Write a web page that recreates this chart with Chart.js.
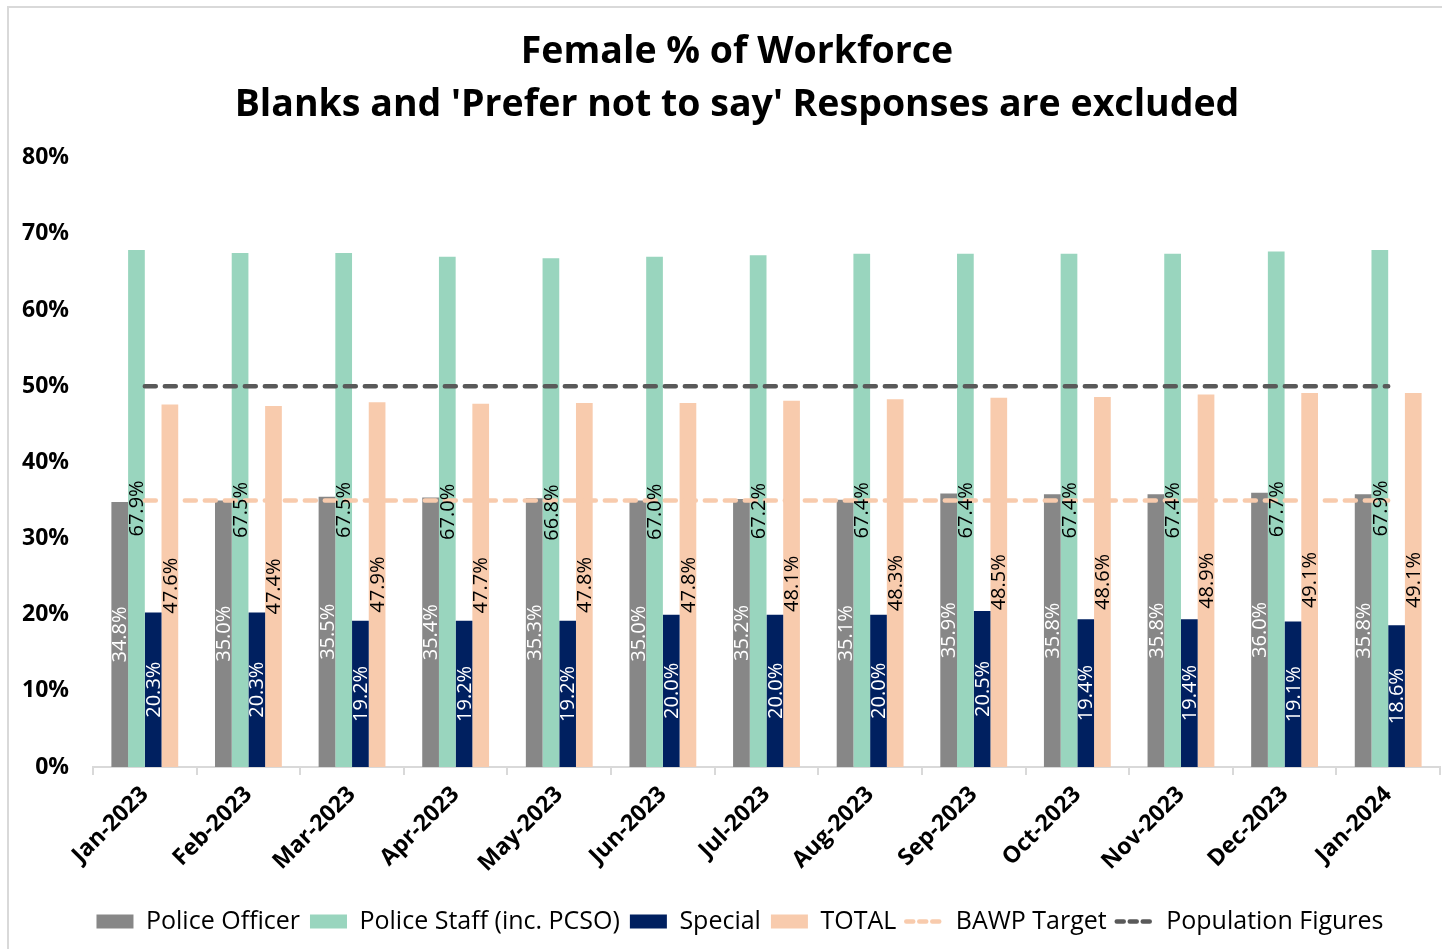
<!DOCTYPE html>
<html>
<head>
<meta charset="utf-8">
<script src="https://cdn.jsdelivr.net/npm/chart.js@4"></script>
<style>
  html, body { margin: 0; padding: 0; background: #fff; overflow: hidden; }
  #frame { position: absolute; left: 7px; top: 6px; width: 1460px; height: 960px; border: 2px solid #d9d9d9; }
  #wrap { position: absolute; left: 0; top: 0; width: 1442px; height: 949px; }
</style>
</head>
<body>
<div id="frame"></div>
<div id="wrap"><canvas id="chart"></canvas></div>
<script>
// months on the x axis
const months = ['Jan-2023', 'Feb-2023', 'Mar-2023', 'Apr-2023', 'May-2023', 'Jun-2023', 'Jul-2023',
  'Aug-2023', 'Sep-2023', 'Oct-2023', 'Nov-2023', 'Dec-2023', 'Jan-2024'];

// female % by group
const policeOfficer = [34.8, 35.0, 35.5, 35.4, 35.3, 35.0, 35.2, 35.1, 35.9, 35.8, 35.8, 36.0, 35.8];
const policeStaff = [67.9, 67.5, 67.5, 67.0, 66.8, 67.0, 67.2, 67.4, 67.4, 67.4, 67.4, 67.7, 67.9];
const special = [20.3, 20.3, 19.2, 19.2, 19.2, 20.0, 20.0, 20.0, 20.5, 19.4, 19.4, 19.1, 18.6];
const total = [47.6, 47.4, 47.9, 47.7, 47.8, 47.8, 48.1, 48.3, 48.5, 48.6, 48.9, 49.1, 49.1];

// reference lines
const bawpTarget = [35, 35, 35, 35, 35, 35, 35, 35, 35, 35, 35, 35, 35];
const populationFigures = [50, 50, 50, 50, 50, 50, 50, 50, 50, 50, 50, 50, 50];

const FONT = "'Open Sans', 'Noto Sans', sans-serif";

// value labels, rotated, in the middle of each bar
const barLabels = {
  id: 'barLabels',
  afterDatasetsDraw(chart) {
    const ctx = chart.ctx;
    chart.data.datasets.forEach((ds, i) => {
      if (ds.type !== 'bar') return;
      const meta = chart.getDatasetMeta(i);
      meta.data.forEach((bar, j) => {
        const mid = (bar.y + bar.base) / 2;
        ctx.save();
        ctx.translate(bar.x, mid);
        ctx.rotate(-Math.PI / 2);
        ctx.font = '20px ' + FONT;
        ctx.fillStyle = ds.labelColor;
        ctx.textAlign = 'center';
        ctx.textBaseline = 'middle';
        ctx.fillText(ds.data[j].toFixed(1) + '%', 0, 1);
        ctx.restore();
      });
    });
  }
};

// nudge the title and legend a little right, as in the original
const blockShift = {
  id: 'blockShift',
  afterLayout(chart) {
    chart.titleBlock.left = 34;
    chart.legend.left += 20;
    chart.legend.right += 20;
  }
};

const ctx = document.getElementById('chart').getContext('2d');
new Chart(ctx, {
  data: {
    labels: months,
    datasets: [
      { type: 'bar', label: 'Police Officer', data: policeOfficer, backgroundColor: '#878787', labelColor: '#ffffff', order: 1 },
      { type: 'bar', label: 'Police Staff (inc. PCSO)', data: policeStaff, backgroundColor: '#99d5be', labelColor: '#000000', order: 1 },
      { type: 'bar', label: 'Special', data: special, backgroundColor: '#002060', labelColor: '#ffffff', order: 1 },
      { type: 'bar', label: 'TOTAL', data: total, backgroundColor: '#f8cbad', labelColor: '#000000', order: 1 },
      { type: 'line', label: 'BAWP Target', data: bawpTarget, borderColor: '#f8cbad', borderWidth: 4.5,
        borderDash: [11, 9], borderCapStyle: 'round', pointRadius: 0, order: 0 },
      { type: 'line', label: 'Population Figures', data: populationFigures, borderColor: '#595959', borderWidth: 4.5,
        borderDash: [11, 9], borderCapStyle: 'round', pointRadius: 0, order: 0 }
    ]
  },
  options: {
    responsive: true,
    maintainAspectRatio: false,
    animation: false,
    layout: { padding: { left: 0, right: 2, top: 0, bottom: 5 } },
    datasets: {
      bar: { barPercentage: 1, categoryPercentage: 0.645 }
    },
    plugins: {
      title: {
        display: true,
        text: ['Female % of Workforce', "Blanks and 'Prefer not to say' Responses are excluded"],
        color: '#000',
        font: { family: FONT, size: 37.5, weight: 'bold', lineHeight: 1.41 },
        padding: { top: 26, bottom: 26 }
      },
      legend: {
        position: 'bottom',
        labels: {
          color: '#000',
          font: { family: FONT, size: 25 },
          usePointStyle: true,
          pointStyleWidth: 37,
          boxHeight: 14,
          padding: 10,
          generateLabels(chart) {
            return chart.data.datasets.map((ds, i) => {
              const isLine = ds.type === 'line';
              return {
                text: ds.label,
                datasetIndex: i,
                fillStyle: isLine ? 'rgba(0,0,0,0)' : ds.backgroundColor,
                strokeStyle: isLine ? ds.borderColor : ds.backgroundColor,
                lineWidth: isLine ? 4.5 : 0,
                lineDash: isLine ? [7, 6] : [],
                lineCap: isLine ? 'round' : 'butt',
                pointStyle: isLine ? 'line' : 'rect',
                fontColor: '#000',
                hidden: false
              };
            });
          }
        }
      },
      tooltip: { enabled: false }
    },
    scales: {
      x: {
        offset: true,
        grid: { display: true, drawOnChartArea: false, drawTicks: true, tickLength: 8, offset: true, color: '#d9d9d9', lineWidth: 2 },
        border: { display: true, color: '#d9d9d9', width: 2 },
        ticks: { color: '#000', font: { family: FONT, size: 23, weight: 'bold' }, maxRotation: 45, minRotation: 45, padding: 6 },
        afterFit(scale) { scale.height = 132; }
      },
      y: {
        min: 0,
        max: 80,
        grid: { display: false, drawTicks: false },
        border: { display: false },
        ticks: {
          stepSize: 10,
          color: '#000',
          padding: 24,
          font: { family: FONT, size: 23, weight: 'bold' },
          callback: v => v + '%'
        },
        afterFit(scale) { scale.width = 93; }
      }
    }
  },
  plugins: [barLabels, blockShift]
});
</script>
</body>
</html>
